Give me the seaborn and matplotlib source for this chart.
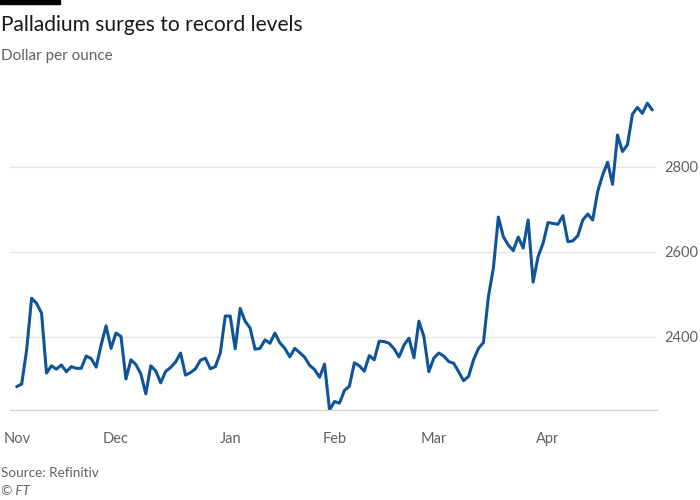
import numpy as np
import pandas as pd
import matplotlib
matplotlib.use("Agg")
import matplotlib.pyplot as plt
import seaborn as sns
from matplotlib.patches import Rectangle

# Palladium price, dollar per ounce, business days from 3 Nov 2020
start_date = "2020-11-03"
price = [
    2283, 2289, 2369, 2491, 2479, 2456, 2315, 2332, 2324, 2334,
    2318, 2330, 2326, 2326, 2355, 2349, 2329, 2381, 2426, 2373,
    2409, 2401, 2301, 2346, 2335, 2313, 2266, 2332, 2320, 2292,
    2319, 2328, 2341, 2362, 2310, 2316, 2325, 2345, 2350, 2325,
    2330, 2362, 2449, 2449, 2372, 2467, 2437, 2421, 2371, 2373,
    2393, 2385, 2409, 2386, 2373, 2353, 2373, 2363, 2352, 2333,
    2323, 2305, 2336, 2228, 2248, 2244, 2274, 2284, 2339, 2332,
    2319, 2356, 2346, 2390, 2389, 2385, 2372, 2353, 2381, 2397,
    2351, 2437, 2401, 2318, 2350, 2362, 2355, 2342, 2338, 2318,
    2297, 2307, 2346, 2373, 2387, 2495, 2562, 2682, 2636, 2616,
    2603, 2635, 2609, 2675, 2529, 2589, 2620, 2669, 2667, 2665,
    2685, 2624, 2626, 2638, 2675, 2689, 2675, 2742, 2781, 2811,
    2759, 2875, 2836, 2852, 2924, 2940, 2926, 2950, 2934,
]
y_ticks = [2400, 2600, 2800]
month_names = ["Nov", "Dec", "Jan", "Feb", "Mar", "Apr"]

dates = pd.bdate_range(start_date, periods=len(price))
df = pd.DataFrame({"date": dates, "price": price})
df["pos"] = np.arange(len(df))

# first business day of each month -> tick position
month_start = df.groupby(df["date"].dt.to_period("M"))["pos"].min().values

# ==========================
# Style
# ==========================
sns.set_theme(style="white")
plt.rcParams["font.family"] = ["Lato", "DejaVu Sans"]

grey_text = "#66605c"
grid_col = "#ece6e0"
axis_col = "#d8d2cc"
line_col = "#0f5499"

fig = plt.figure(figsize=(7, 5), dpi=100)
fig.patch.set_facecolor("white")
ax = fig.add_axes([10 / 700, 90 / 500, 647 / 700, 325 / 500])

sns.lineplot(data=df, x="pos", y="price", color=line_col, linewidth=2.2, ax=ax)

ax.set_xlim(-1.35, len(price) - 1 + 0.95)
ax.set_ylim(min(price), min(price) + 325 / 0.425)

ax.yaxis.tick_right()
ax.set_yticks(y_ticks)
ax.set_yticklabels([str(v) for v in y_ticks])
ax.tick_params(axis="y", length=0, pad=5, labelsize=10.5, labelcolor=grey_text)
ax.grid(axis="y", color=grid_col, linewidth=1)
ax.grid(axis="x", visible=False)

ax.set_xticks(month_start)
ax.set_xticklabels(month_names)
ax.tick_params(axis="x", length=11, width=1, color=axis_col, pad=5,
               labelsize=10.5, labelcolor=grey_text)

for s in ["top", "right", "left"]:
    ax.spines[s].set_visible(False)
ax.spines["bottom"].set_color(axis_col)
ax.spines["bottom"].set_linewidth(1)
ax.set_xlabel("")
ax.set_ylabel("")

# ==========================
# Titles and notes
# ==========================
fig.patches.append(Rectangle((0, 1 - 4 / 500), 60 / 700, 4 / 500,
                             transform=fig.transFigure, color="black"))
fig.text(1 / 700, 1 - 25 / 500, "Palladium surges to record levels",
         fontsize=15.1, color="#1a1817", va="center", ha="left")
fig.text(1 / 700, 1 - 56 / 500, "Dollar per ounce",
         fontsize=11, color=grey_text, va="center", ha="left")
fig.text(1 / 700, 1 - 473 / 500, "Source: Refinitiv",
         fontsize=9.7, color=grey_text, va="center", ha="left")
fig.text(1 / 700, 1 - 491 / 500, "© FT",
         fontsize=9.7, color=grey_text, va="center", ha="left", style="italic")

plt.savefig("out.png", dpi=100, facecolor="white")
plt.close()
